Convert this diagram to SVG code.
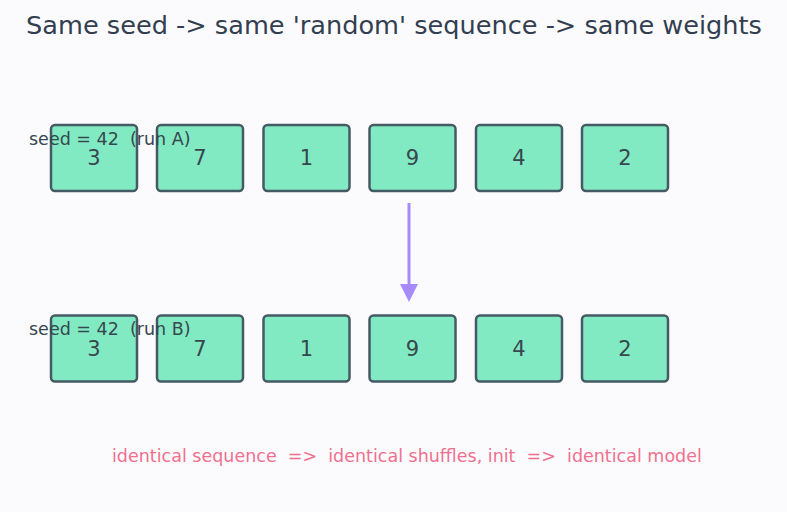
<svg xmlns="http://www.w3.org/2000/svg" width="787" height="512" viewBox="0 0 787 512">
<defs>
<style>
.box{fill:#82eac2;stroke:#455a64;stroke-width:2.5}
.num{font-family:"DejaVu Sans",sans-serif;font-size:21px;fill:#37474f;text-anchor:middle}
.lbl{font-family:"DejaVu Sans",sans-serif;font-size:17.5px;fill:#37474f;white-space:pre}
</style>
</defs>
<rect width="787" height="512" fill="#fbfbfd"/>
<text x="394" y="34" text-anchor="middle" font-family="DejaVu Sans, sans-serif" font-size="25.6" fill="#333f50">Same seed -&gt; same 'random' sequence -&gt; same weights</text>
<g id="rowA">
<g id="a1"><rect class="box" x="51" y="125" width="86" height="66" rx="4"/><text class="num" x="94" y="165">3</text></g>
<g id="a2"><rect class="box" x="157" y="125" width="86" height="66" rx="4"/><text class="num" x="200" y="165">7</text></g>
<g id="a3"><rect class="box" x="263.5" y="125" width="86" height="66" rx="4"/><text class="num" x="306.5" y="165">1</text></g>
<g id="a4"><rect class="box" x="369.5" y="125" width="86" height="66" rx="4"/><text class="num" x="412.5" y="165">9</text></g>
<g id="a5"><rect class="box" x="476" y="125" width="86" height="66" rx="4"/><text class="num" x="519" y="165">4</text></g>
<g id="a6"><rect class="box" x="582" y="125" width="86" height="66" rx="4"/><text class="num" x="625" y="165">2</text></g>
<text class="lbl" x="29" y="145" xml:space="preserve">seed = 42  (run A)</text>
</g>
<g id="rowB">
<g id="b1"><rect class="box" x="51" y="315.5" width="86" height="66" rx="4"/><text class="num" x="94" y="355.5">3</text></g>
<g id="b2"><rect class="box" x="157" y="315.5" width="86" height="66" rx="4"/><text class="num" x="200" y="355.5">7</text></g>
<g id="b3"><rect class="box" x="263.5" y="315.5" width="86" height="66" rx="4"/><text class="num" x="306.5" y="355.5">1</text></g>
<g id="b4"><rect class="box" x="369.5" y="315.5" width="86" height="66" rx="4"/><text class="num" x="412.5" y="355.5">9</text></g>
<g id="b5"><rect class="box" x="476" y="315.5" width="86" height="66" rx="4"/><text class="num" x="519" y="355.5">4</text></g>
<g id="b6"><rect class="box" x="582" y="315.5" width="86" height="66" rx="4"/><text class="num" x="625" y="355.5">2</text></g>
<text class="lbl" x="29" y="335" xml:space="preserve">seed = 42  (run B)</text>
</g>
<g id="connectors">
<line x1="409" y1="203" x2="409" y2="286" stroke="#a78bfa" stroke-width="3"/>
<path d="M400,284 L418,284 L409,302 z" fill="#a78bfa"/>
</g>
<text x="112" y="462" font-family="DejaVu Sans, sans-serif" font-size="17.5" fill="#f0708f" xml:space="preserve" style="white-space:pre">identical sequence  =&gt;  identical shuffles, init  =&gt;  identical model</text>
</svg>
